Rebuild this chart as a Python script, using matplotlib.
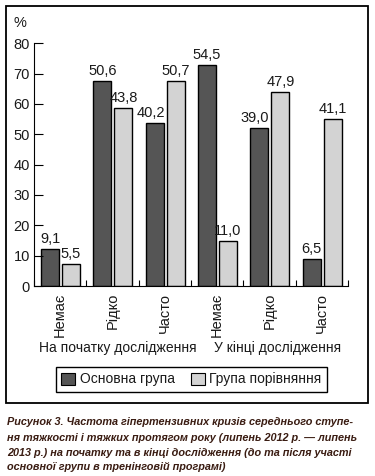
import matplotlib
matplotlib.use("Agg")
import matplotlib.pyplot as plt
from matplotlib.patches import Rectangle, Patch
import numpy as np

plt.rcParams['font.family'] = ['Liberation Sans', 'DejaVu Sans']

categories = ["Немає", "Рідко", "Часто", "Немає", "Рідко", "Часто"]
groups = ["На початку дослідження", "У кінці дослідження"]
series_names = ["Основна група", "Група порівняння"]
# printed values
main_labels = ["9,1", "50,6", "40,2", "54,5", "39,0", "6,5"]
comp_labels = ["5,5", "43,8", "50,7", "11,0", "47,9", "41,1"]
# bar heights as drawn against the printed axis
main_heights = [12.2, 67.6, 53.6, 72.7, 52.1, 8.8]
comp_heights = [7.1, 58.6, 67.6, 14.7, 63.9, 55.0]
yticks = [0, 10, 20, 30, 40, 50, 60, 70, 80]
caption = ["Рисунок 3. Частота гіпертензивних кризів середнього ступе-",
           "ня тяжкості і тяжких протягом року (липень 2012 р. — липень",
           "2013 р.) на початку та в кінці дослідження (до та після участі",
           "основної групи в тренінговій програмі)"]

W, H = 375, 476
fig = plt.figure(figsize=(W / 100, H / 100), dpi=100)
ax = fig.add_axes([34 / W, 1 - 286 / H, (348 - 34) / W, (286 - 43.3) / H])

dark = '#555555'
light = '#d3d3d3'
tc = '#1a1a1a'
x = np.arange(len(categories))
bw = 0.345
ax.bar(x + 0.306, main_heights, bw, color=dark, edgecolor='black', linewidth=1.0)
ax.bar(x + 0.707, comp_heights, bw, color=light, edgecolor='black', linewidth=1.0)

fs = 10.5
fs2 = 10
for i in range(len(categories)):
    if comp_heights[i] > main_heights[i] + 3:
        ax.text(x[i] + 0.306 + bw / 2 + 0.02, main_heights[i] + 1.0, main_labels[i],
                ha='right', va='bottom', fontsize=fs, color=tc)
    else:
        ax.text(x[i] + 0.306, main_heights[i] + 1.0, main_labels[i],
                ha='center', va='bottom', fontsize=fs, color=tc)
    ax.text(x[i] + 0.707, comp_heights[i] + 1.0, comp_labels[i],
            ha='center', va='bottom', fontsize=fs, color=tc)

ax.set_xlim(0, 6)
ax.set_ylim(0, 80)
ax.set_yticks(yticks)
ax.set_yticklabels([str(t) for t in yticks], fontsize=fs, color=tc)
ax.set_xticks(np.arange(0, 7))
ax.set_xticklabels([])
ax.tick_params(axis='y', direction='in', length=6.5, width=0.8, pad=3)
ax.tick_params(axis='x', direction='in', length=4, width=0.8)
for s in ['top', 'right']:
    ax.spines[s].set_visible(False)
for s in ['left', 'bottom']:
    ax.spines[s].set_linewidth(0.8)
ax.patch.set_visible(False)

for i, c in enumerate(categories):
    ax.text(x[i] + 0.5, -2.2, c, rotation=90, ha='center', va='top',
            fontsize=fs, color=tc)

gy = 1 - (348 - 43.3) / (286 - 43.3)
ax.text(1.6, gy, groups[0], transform=ax.get_xaxis_transform(),
        ha='center', va='center', fontsize=fs2, color=tc)
ax.text(4.65, gy, groups[1], transform=ax.get_xaxis_transform(),
        ha='center', va='center', fontsize=fs2, color=tc)

fig.text(20 / W, 1 - 23 / H, "%", ha='center', va='center', fontsize=fs, color=tc)

handles = [Patch(facecolor=dark, edgecolor='black', linewidth=0.8),
           Patch(facecolor=light, edgecolor='black', linewidth=0.8)]
leg = fig.legend(handles, series_names, loc='center', bbox_to_anchor=(191.5 / W, 1 - 379.5 / H),
                 ncol=2, fontsize=fs2, frameon=True, fancybox=False, framealpha=1,
                 edgecolor='black', handlelength=1.0, handleheight=1.0, handletextpad=0.3,
                 columnspacing=1.2, borderpad=0.4, labelcolor=tc)
leg.get_frame().set_linewidth(1.0)

fig.patches.append(Rectangle((6 / W, 1 - 403 / H), 362 / W, 397 / H, transform=fig.transFigure,
                             fill=False, edgecolor='black', linewidth=1.3))

ys = [422, 438, 453, 467]
for line, y in zip(caption, ys):
    fig.text(7 / W, 1 - y / H, line, ha='left', va='center', fontsize=7.8,
             fontweight='bold', fontstyle='italic', color='#3a1c12')

fig.savefig('out.png', dpi=100)
